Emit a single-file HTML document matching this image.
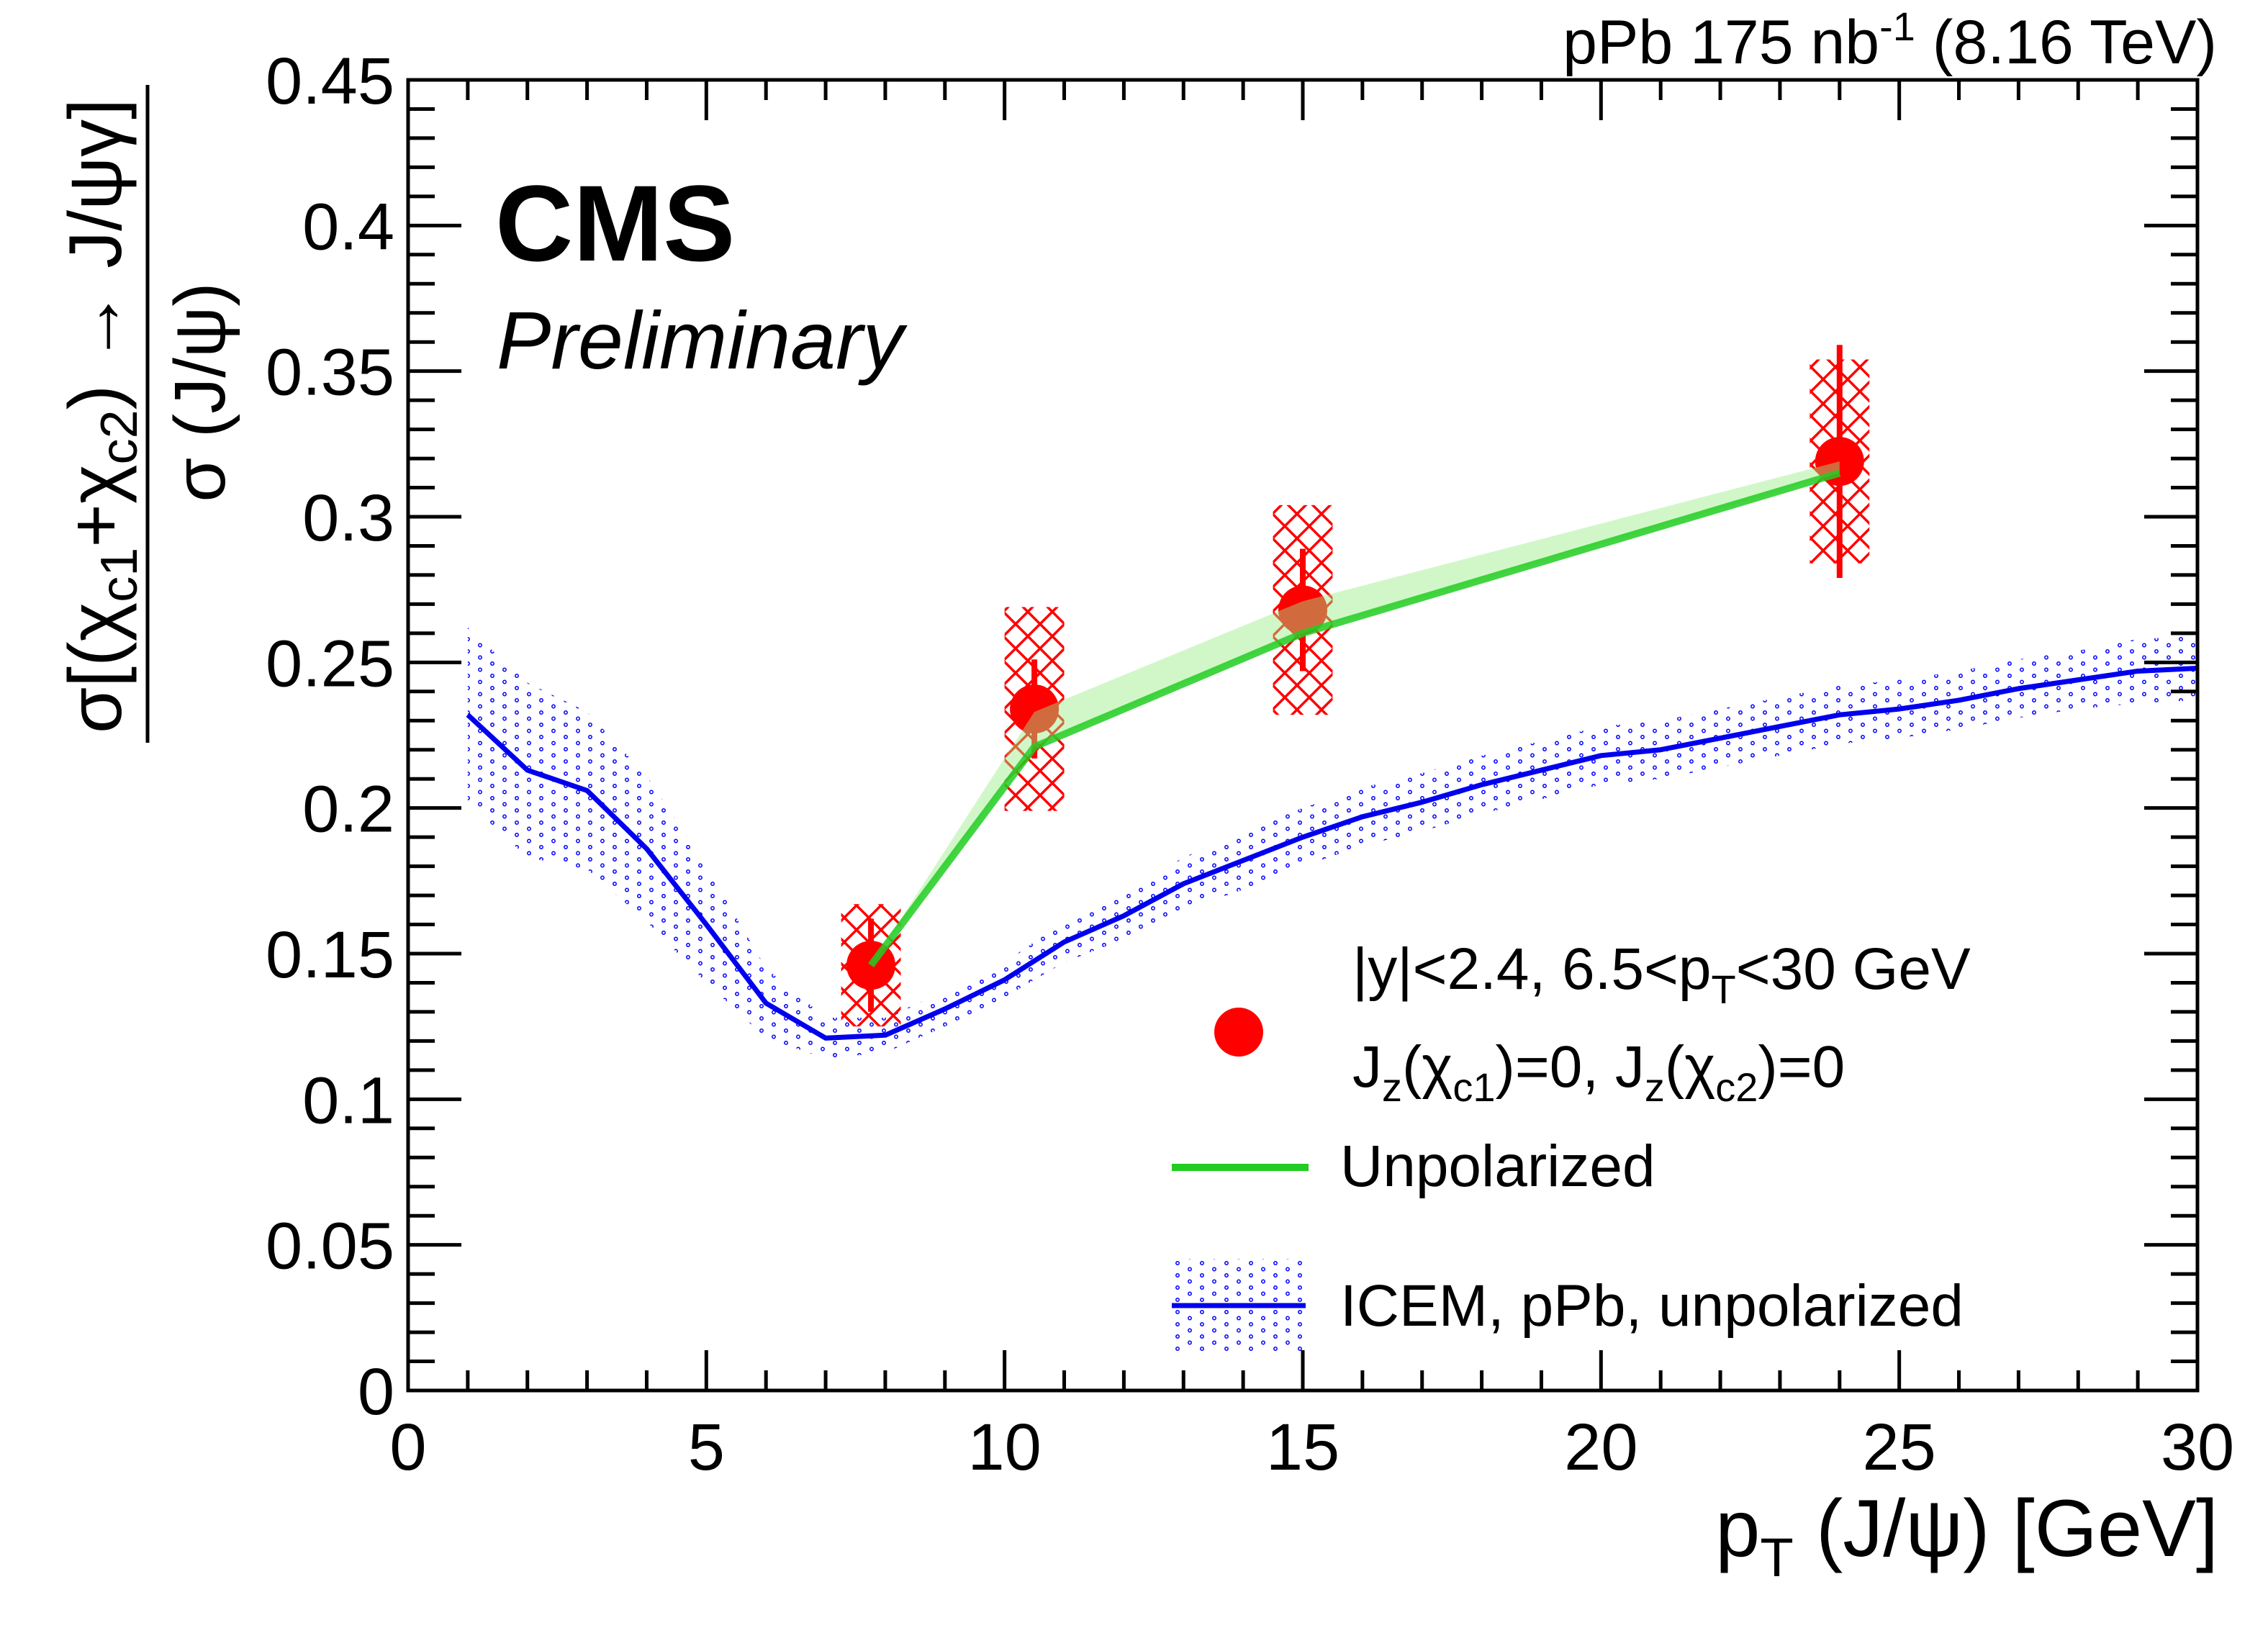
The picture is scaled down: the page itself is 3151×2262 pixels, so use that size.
<!DOCTYPE html>
<html><head><meta charset="utf-8"><style>
html,body{margin:0;padding:0;background:#fff;}
svg{display:block;font-family:"Liberation Sans",sans-serif;}
</style></head><body>
<svg id="chart" width="3151" height="2262" viewBox="0 0 3151 2262" xmlns="http://www.w3.org/2000/svg">
<defs>
<pattern id="xhatch" patternUnits="userSpaceOnUse" width="34" height="34">
<path d="M0,0 L34,34 M34,0 L0,34" stroke="#ff0000" stroke-width="3.5" fill="none"/>
</pattern>
<pattern id="dots" patternUnits="userSpaceOnUse" width="34" height="17">
<circle cx="4" cy="4" r="2.2" fill="none" stroke="#0000ff" stroke-width="1.5"/>
<circle cx="21" cy="12.5" r="2.2" fill="none" stroke="#0000ff" stroke-width="1.5"/>
</pattern>
<clipPath id="plotclip"><rect x="567" y="111" width="2486" height="1821"/></clipPath>
</defs>
<g id="bands" clip-path="url(#plotclip)"></g>
<g id="marks"></g>
<g id="axes"></g>
<text x="3080" y="88" font-size="86" text-anchor="end">pPb 175 nb<tspan font-size="56" dy="-32">-1</tspan><tspan dy="32"> (8.16 TeV)</tspan></text>
<text x="688" y="362" font-size="150" font-weight="bold">CMS</text>
<text x="690" y="512" font-size="113" font-style="italic">Preliminary</text>
<text x="3082" y="2162" font-size="112" text-anchor="end">p<tspan font-size="76" dy="28">T</tspan><tspan dy="-28"> (J/ψ) [GeV]</tspan></text>
<g>
<text transform="translate(168,578) rotate(-90)" font-size="104" text-anchor="middle">σ[(χ<tspan font-size="72" dy="22">c1</tspan><tspan dy="-22">+χ</tspan><tspan font-size="72" dy="22">c2</tspan><tspan dy="-22">) → J/ψγ]</tspan></text>
<line x1="205" y1="118" x2="205" y2="1032" stroke="#000" stroke-width="5"/>
<text transform="translate(312,545) rotate(-90)" font-size="100" text-anchor="middle">σ (J/ψ)</text>
</g>
<g id="legend">
<circle cx="1721" cy="1434" r="34" fill="#ff0000"/>
<text x="1879" y="1374" font-size="82">|y|&lt;2.4, 6.5&lt;p<tspan font-size="56" dy="20">T</tspan><tspan dy="-20">&lt;30 GeV</tspan></text>
<text x="1879" y="1510" font-size="82">J<tspan font-size="56" dy="20">z</tspan><tspan dy="-20">(χ</tspan><tspan font-size="56" dy="20">c1</tspan><tspan dy="-20">)=0, J</tspan><tspan font-size="56" dy="20">z</tspan><tspan dy="-20">(χ</tspan><tspan font-size="56" dy="20">c2</tspan><tspan dy="-20">)=0</tspan></text>
<line x1="1628" y1="1622" x2="1818" y2="1622" stroke="#22cc22" stroke-width="10"/>
<text x="1862" y="1648" font-size="82">Unpolarized</text>
<rect x="1632" y="1749" width="182" height="130" fill="url(#dots)"/>
<line x1="1628" y1="1814" x2="1814" y2="1814" stroke="#0000ee" stroke-width="7"/>
<text x="1862" y="1842" font-size="82">ICEM, pPb, unpolarized</text>
</g>
</svg>
<script>
const dataX = [7.76, 10.5, 15.0, 24.0];
const dataY = [0.146, 0.234, 0.268, 0.319];
const statErr = [0.016, 0.017, 0.021, 0.040];
const systErr = [0.021, 0.035, 0.036, 0.035];
const unpolY = [0.146, 0.221, 0.260, 0.315];
const unpolUp = [0.146, 0.233, 0.271, 0.319];
const icemX = [1,2,3,4,5,6,7,8,9,10,11,12,13,14,15,16,17,18,19,20,21,22,23,24,25,26,27,28,29,30];
const icemY = [0.232,0.213,0.206,0.186,0.160,0.133,0.121,0.122,0.131,0.141,0.154,0.163,0.174,0.182,0.190,0.197,0.202,0.208,0.213,0.218,0.220,0.224,0.228,0.232,0.234,0.237,0.241,0.244,0.247,0.248];
const icemErr = [0.030,0.030,0.027,0.025,0.020,0.012,0.007,0.006,0.006,0.006,0.007,0.008,0.009,0.010,0.010,0.010,0.010,0.010,0.010,0.010,0.010,0.010,0.010,0.010,0.010,0.010,0.010,0.010,0.011,0.011];
const xTicks = [0,5,10,15,20,25,30];
const yTicks = [0,0.05,0.1,0.15,0.2,0.25,0.3,0.35,0.4,0.45];
const yTickLabels = ["0","0.05","0.1","0.15","0.2","0.25","0.3","0.35","0.4","0.45"];

const X0=567,X1=3053,Y0=1932,Y1=111;
const sx=v=>X0+(v-0)/30*(X1-X0);
const sy=v=>Y0-(v/0.45)*(Y0-Y1);
const NS="http://www.w3.org/2000/svg";
function mk(tag,attrs,parent){const e=document.createElementNS(NS,tag);for(const k in attrs)e.setAttribute(k,attrs[k]);parent.appendChild(e);return e;}
const bands=document.getElementById('bands'),marks=document.getElementById('marks'),axes=document.getElementById('axes');

let bp=icemX.map((x,i)=>sx(x)+','+sy(icemY[i]+icemErr[i]));
bp=bp.concat(icemX.map((x,i)=>sx(x)+','+sy(icemY[i]-icemErr[i])).reverse());
let e=mk('polygon',{points:bp.join(' '),fill:'url(#dots)'},bands);


e=mk('polyline',{points:icemX.map((x,i)=>sx(x)+','+sy(icemY[i])).join(' '),fill:'none',stroke:'#0000ee','stroke-width':7,'stroke-linejoin':'round'},bands);



dataX.forEach((x,i)=>{
 const r=mk('rect',{x:sx(x-0.5),y:sy(dataY[i]+systErr[i]),width:sx(x+0.5)-sx(x-0.5),height:sy(dataY[i]-systErr[i])-sy(dataY[i]+systErr[i]),fill:'url(#xhatch)'},marks);
 
 
});
dataX.forEach((x,i)=>{
 const l=mk('line',{x1:sx(x),x2:sx(x),y1:sy(dataY[i]+statErr[i]),y2:sy(dataY[i]-statErr[i]),stroke:'#ff0000','stroke-width':8},marks);
 
 
 const c=mk('circle',{cx:sx(x),cy:sy(dataY[i]),r:34,fill:'#ff0000'},marks);
 
 
});
let gp=dataX.map((x,i)=>sx(x)+','+sy(unpolUp[i]));
gp=gp.concat(dataX.map((x,i)=>sx(x)+','+sy(unpolY[i])).reverse());
e=mk('polygon',{points:gp.join(' '),fill:'#99ee88','fill-opacity':0.45},marks);


e=mk('polyline',{points:dataX.map((x,i)=>sx(x)+','+sy(unpolY[i])).join(' '),fill:'none',stroke:'#22cc22','stroke-width':10,'stroke-opacity':0.85},marks);



e=mk('rect',{x:X0,y:Y1,width:X1-X0,height:Y0-Y1,fill:'none',stroke:'#000','stroke-width':5},axes);


let tp='';
for(let v=0;v<=30;v++){const maj=v%5===0,L=maj?56:28,x=sx(v);tp+=`M${x},${Y0}v${-L}M${x},${Y1}v${L}`;}
for(let k=0;k<=45;k++){const maj=k%5===0,L=maj?74:37,y=sy(k*0.01);tp+=`M${X0},${y}h${L}M${X1},${y}h${-L}`;}
e=mk('path',{d:tp,stroke:'#000','stroke-width':5,fill:'none'},axes);


xTicks.forEach(v=>{
 const t=mk('text',{x:sx(v),y:2042,'font-size':92,'text-anchor':'middle'},axes);t.textContent=v;
 
 
});
yTicks.forEach((v,i)=>{
 const t=mk('text',{x:548,y:sy(v)+33,'font-size':92,'text-anchor':'end'},axes);t.textContent=yTickLabels[i];
 
 
});
</script>
</body></html>
